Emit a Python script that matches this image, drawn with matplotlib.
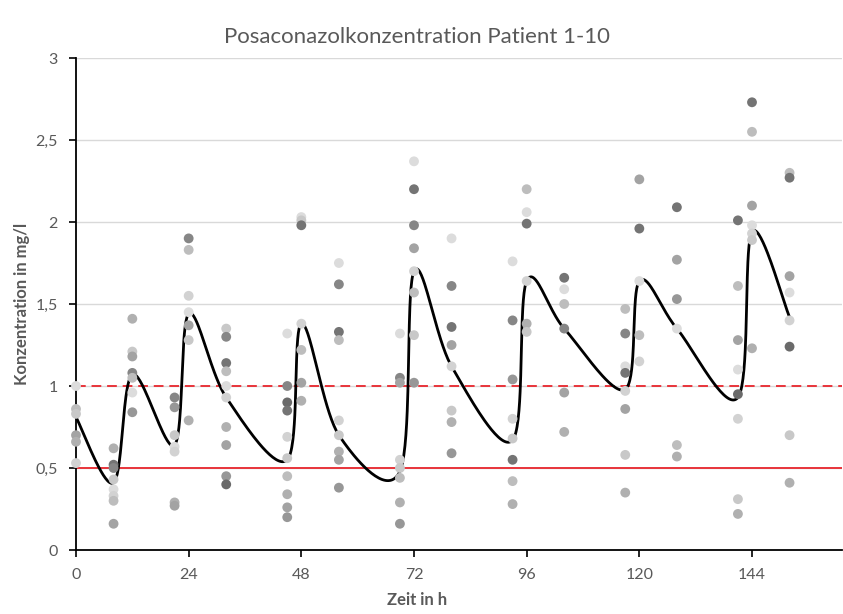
import numpy as np
import matplotlib
matplotlib.use("Agg")
import matplotlib.pyplot as plt

plt.rcParams['font.family'] = ['Lato', 'DejaVu Sans']

# Probenzeitpunkte (h) und mittlerer Verlauf
zeit_h = [0, 8, 12, 21, 24, 32, 45, 48, 56, 69, 72, 80, 93, 96, 104, 117, 120, 128, 141, 144, 152]
mittelwert = [0.81, 0.41, 1.07, 0.64, 1.44, 0.93, 0.55, 1.38, 0.70, 0.48, 1.70,
              1.12, 0.67, 1.64, 1.35, 0.98, 1.64, 1.35, 0.93, 1.94, 1.42]

# Einzelmesswerte je Zeitpunkt (mg/l) und zugehörige Patientennummer
werte_0h = [1.00, 0.86, 0.83, 0.70, 0.66, 0.53]
pat_0h = [1, 4, 3, 6, 5, 2]
werte_8h = [0.62, 0.52, 0.50, 0.43, 0.37, 0.33, 0.30, 0.16]
pat_8h = [5, 9, 8, 3, 1, 2, 4, 6]
werte_12h = [1.41, 1.21, 1.18, 1.08, 1.05, 0.96, 0.84]
pat_12h = [5, 3, 6, 8, 4, 1, 7]
werte_21h = [0.93, 0.87, 0.70, 0.63, 0.60, 0.29, 0.27]
pat_21h = [8, 7, 3, 1, 2, 5, 6]
werte_24h = [1.90, 1.83, 1.55, 1.45, 1.37, 1.28, 0.79]
pat_24h = [8, 4, 2, 1, 6, 3, 5]
werte_32h = [1.35, 1.30, 1.14, 1.09, 1.00, 0.93, 0.75, 0.64, 0.45, 0.40]
pat_32h = [3, 8, 9, 4, 1, 2, 5, 6, 7, 10]
werte_45h = [1.32, 1.00, 0.90, 0.85, 0.69, 0.56, 0.45, 0.34, 0.26, 0.20]
pat_45h = [1, 8, 10, 9, 2, 3, 4, 5, 6, 7]
werte_48h = [2.03, 2.01, 1.98, 1.38, 1.22, 1.02, 0.91]
pat_48h = [1, 3, 9, 2, 4, 6, 5]
werte_56h = [1.75, 1.62, 1.33, 1.28, 0.79, 0.70, 0.60, 0.55, 0.38]
pat_56h = [1, 8, 9, 4, 2, 3, 5, 6, 7]
werte_69h = [1.32, 1.05, 1.02, 0.55, 0.50, 0.44, 0.29, 0.16]
pat_69h = [1, 8, 6, 2, 3, 4, 5, 7]
werte_72h = [2.37, 2.20, 1.98, 1.84, 1.70, 1.57, 1.31, 1.02]
pat_72h = [1, 9, 8, 6, 2, 4, 3, 7]
werte_80h = [1.90, 1.61, 1.36, 1.25, 1.12, 0.85, 0.78, 0.59]
pat_80h = [1, 8, 9, 6, 2, 3, 5, 7]
werte_93h = [1.76, 1.40, 1.04, 0.80, 0.68, 0.55, 0.42, 0.28]
pat_93h = [1, 8, 7, 2, 3, 9, 4, 5]
werte_96h = [2.20, 2.06, 1.99, 1.64, 1.38, 1.33]
pat_96h = [4, 1, 9, 2, 5, 3]
werte_104h = [1.66, 1.59, 1.50, 1.35, 0.96, 0.72]
pat_104h = [9, 1, 4, 8, 6, 5]
werte_117h = [1.47, 1.32, 1.12, 1.08, 0.97, 0.86, 0.58, 0.35]
pat_117h = [4, 8, 1, 9, 2, 6, 3, 5]
werte_120h = [2.26, 1.96, 1.64, 1.31, 1.15]
pat_120h = [6, 9, 1, 4, 2]
werte_128h = [2.09, 1.77, 1.53, 1.35, 0.64, 0.57]
pat_128h = [9, 6, 7, 1, 4, 5]
werte_141h = [2.01, 1.61, 1.28, 1.10, 0.95, 0.80, 0.31, 0.22]
pat_141h = [9, 4, 6, 1, 10, 2, 3, 5]
werte_144h = [2.73, 2.55, 2.10, 1.98, 1.93, 1.89, 1.23]
pat_144h = [9, 4, 6, 1, 2, 3, 5]
werte_152h = [2.30, 2.27, 1.67, 1.57, 1.40, 1.24, 0.70, 0.41]
pat_152h = [4, 9, 6, 1, 2, 10, 3, 5]

messwerte = [werte_0h, werte_8h, werte_12h, werte_21h, werte_24h, werte_32h, werte_45h,
             werte_48h, werte_56h, werte_69h, werte_72h, werte_80h, werte_93h, werte_96h,
             werte_104h, werte_117h, werte_120h, werte_128h, werte_141h, werte_144h, werte_152h]
patienten = [pat_0h, pat_8h, pat_12h, pat_21h, pat_24h, pat_32h, pat_45h,
             pat_48h, pat_56h, pat_69h, pat_72h, pat_80h, pat_93h, pat_96h,
             pat_104h, pat_117h, pat_120h, pat_128h, pat_141h, pat_144h, pat_152h]

grenze_unten = 0.5
grenze_oben = 1.0

# Graustufen der zehn Patienten
grau = {1: '#dcdcdc', 2: '#d2d2d2', 3: '#c8c8c8', 4: '#bdbdbd', 5: '#b0b0b0',
        6: '#a3a3a3', 7: '#979797', 8: '#868686', 9: '#747474', 10: '#6a6a6a'}


def glatte_linie(x, y, n=40):
    """Stückweise kubische Bezierkurve durch alle Punkte (Catmull-Rom-Tangenten)."""
    P = np.column_stack([x, y]).astype(float)
    teile = []
    t = np.linspace(0, 1, n)[:, None]
    for i in range(len(P) - 1):
        p0 = P[i - 1] if i > 0 else P[i]
        p1, p2 = P[i], P[i + 1]
        p3 = P[i + 2] if i + 2 < len(P) else P[i + 1]
        c1 = p1 + (p2 - p0) / 6
        c2 = p2 - (p3 - p1) / 6
        seg = (1 - t) ** 3 * p1 + 3 * (1 - t) ** 2 * t * c1 + 3 * (1 - t) * t ** 2 * c2 + t ** 3 * p2
        teile.append(seg if i == 0 else seg[1:])
    return np.vstack(teile)


W, H = 843, 614
fig = plt.figure(figsize=(W / 100, H / 100), dpi=100)
ax = fig.add_axes([76 / W, 1 - 550 / H, (842 - 76) / W, (550 - 58) / H])

px_per_h = (752 - 76) / 144
ax.set_xlim(0, (842 - 76) / px_per_h)
ax.set_ylim(0, 3)

# Gitternetz
for yv in np.arange(0.5, 3.01, 0.5):
    ax.axhline(yv, color='#d9d9d9', lw=1.0, zorder=0)

# Grenzwerte
ax.axhline(grenze_unten, color='#e8343a', lw=1.4, zorder=1)
ax.axhline(grenze_oben, color='#e8343a', lw=1.4, ls=(0, (5, 3)), zorder=1)

# Mittlerer Verlauf
kurve = glatte_linie(zeit_h, mittelwert)
ax.plot(kurve[:, 0], kurve[:, 1], color='black', lw=2.0, zorder=2,
        solid_capstyle='round', clip_on=False)

# Einzelmesswerte
for t, werte, pats in zip(zeit_h, messwerte, patienten):
    for w, p in zip(werte, pats):
        ax.scatter([t], [w], s=50, color=grau[p], edgecolors='none', zorder=3,
                   clip_on=False)

txt = '#595959'
ax.set_xticks(range(0, 145, 24))
ax.set_xticklabels([str(v) for v in range(0, 145, 24)])
yt = np.arange(0, 3.01, 0.5)
ax.set_yticks(yt)
ax.set_yticklabels([('%g' % v).replace('.', ',') for v in yt])
ax.tick_params(axis='both', colors='black', labelcolor=txt, labelsize=11.5,
               length=5, width=1.2, direction='out')
ax.tick_params(axis='x', pad=8)
ax.tick_params(axis='y', pad=8)

for s in ['top', 'right']:
    ax.spines[s].set_visible(False)
for s in ['left', 'bottom']:
    ax.spines[s].set_color('black')
    ax.spines[s].set_linewidth(1.3)
    ax.spines[s].set_zorder(1.5)

fig.text(417 / W, 1 - 37 / H, 'Posaconazolkonzentration Patient 1-10',
         ha='center', va='center', fontsize=16, color=txt)
fig.text(417 / W, 1 - 600 / H, 'Zeit in h', ha='center', va='center',
         fontsize=12, fontweight='bold', color=txt)
fig.text(22 / W, 1 - 304 / H, 'Konzentration in mg/l', ha='center', va='center',
         rotation=90, fontsize=12, fontweight='bold', color=txt)

fig.savefig('out.png', dpi=100, facecolor='white')
